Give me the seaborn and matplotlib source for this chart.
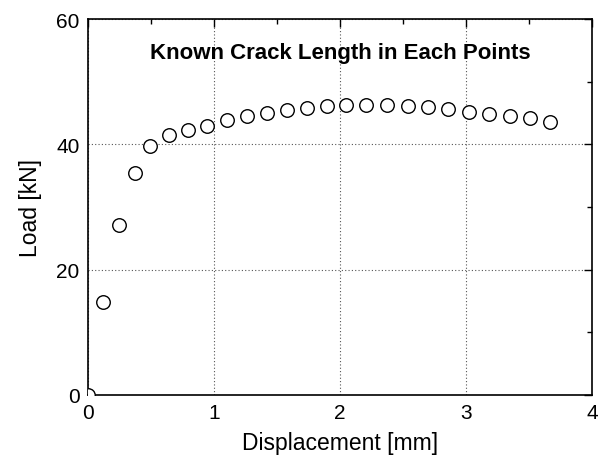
import matplotlib
matplotlib.use("Agg")
import matplotlib.pyplot as plt
import seaborn as sns
import pandas as pd
from matplotlib.ticker import MultipleLocator

# Load-displacement points with known crack length
displacement = [0.0, 0.117, 0.246, 0.373, 0.492, 0.643, 0.791, 0.947, 1.100, 1.259,
                1.418, 1.577, 1.735, 1.894, 2.045, 2.204, 2.375, 2.537, 2.696,
                2.855, 3.021, 3.185, 3.349, 3.508, 3.667]
load = [0.0, 14.8, 27.2, 35.5, 39.8, 41.5, 42.3, 42.95, 43.9, 44.6,
        45.0, 45.4, 45.8, 46.1, 46.3, 46.3, 46.25, 46.15, 46.0,
        45.7, 45.1, 44.8, 44.6, 44.2, 43.5]

x_ticks = [0, 1, 2, 3, 4]
y_ticks = [0, 20, 40, 60]

df = pd.DataFrame({"Displacement": displacement, "Load": load})

sns.set_style("white")
plt.rcParams["font.family"] = ["Liberation Sans", "DejaVu Sans"]
plt.rcParams["text.color"] = "black"
plt.rcParams["axes.labelcolor"] = "black"
plt.rcParams["xtick.color"] = "black"
plt.rcParams["ytick.color"] = "black"

fig = plt.figure(figsize=(6.05, 4.64), dpi=100)
ax = fig.add_axes([88 / 605, 1 - 396 / 464, (592 - 88) / 605, (396 - 20) / 464])

sns.scatterplot(data=df, x="Displacement", y="Load", ax=ax, s=95,
                facecolor="white", edgecolor="black", linewidth=1.0,
                marker="o", zorder=3)

ax.set_xlim(0, 4)
ax.set_ylim(0, 60)
ax.set_xticks(x_ticks)
ax.set_yticks(y_ticks)
ax.xaxis.set_minor_locator(MultipleLocator(0.5))
ax.yaxis.set_minor_locator(MultipleLocator(10))
ax.tick_params(which="both", direction="in", top=True, right=True,
               color="black", width=1.0)
ax.tick_params(which="major", length=6, labelsize=15, pad=6)
ax.tick_params(which="minor", length=3.5)

ax.grid(True, which="major", linestyle=(0, (1, 2)), color="#555555", linewidth=0.8)
ax.set_axisbelow(True)
for sp in ax.spines.values():
    sp.set_color("black")
    sp.set_linewidth(1.2)

ax.set_xlabel("Displacement [mm]", fontsize=16.5, labelpad=6)
ax.set_ylabel("Load [kN]", fontsize=16.5, labelpad=10)
ax.text(0.5, 0.912, "Known Crack Length in Each Points", transform=ax.transAxes,
        ha="center", va="center", fontsize=16, fontweight="bold")

fig.savefig("out.png", dpi=100)
